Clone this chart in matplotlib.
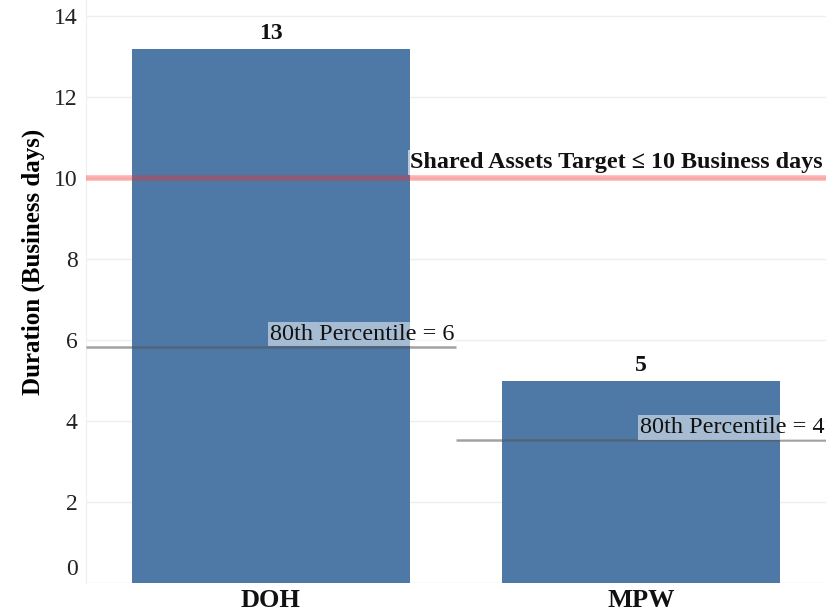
import matplotlib
matplotlib.use("Agg")
import matplotlib.pyplot as plt
import matplotlib.transforms as mtransforms

categories = ["DOH", "MPW"]
durations = [13.2, 5.0]
duration_labels = ["13", "5"]
percentile80 = [5.83, 3.53]
percentile_labels = ["80th Percentile = 6", "80th Percentile = 4"]
target = 10
target_label = "Shared Assets Target \u2264 10 Business days"
yticks = [0, 2, 4, 6, 8, 10, 12, 14]

plt.rcParams['font.family'] = ['Liberation Serif', 'DejaVu Serif']

fig = plt.figure(figsize=(8.26, 6.14), dpi=100)
ax = fig.add_axes([86/826, 1 - 583/614, 740/826, 583/614])

x = list(range(len(categories)))
bar_color = "#4e79a7"
ax.bar(x, durations, width=0.75, color=bar_color, zorder=2)

for xi, v, lab in zip(x, durations, duration_labels):
    ax.text(xi, v + 0.12, lab, ha='center', va='bottom', fontsize=17, fontweight='bold', color='#111111', zorder=5)

# target line
ax.axhline(target, color='#ff2424', alpha=0.36, lw=4, zorder=3)
ax.text(1.5 - 0.008, target + 0.13, target_label, ha='right', va='bottom', fontsize=17.4, fontweight='bold',
        color='#111111', zorder=6,
        bbox=dict(boxstyle='square,pad=0.08', fc='white', ec='none', alpha=0.6))

# percentile lines
for xi, p, lab in zip(x, percentile80, percentile_labels):
    ax.hlines(p, xi - 0.5, xi + 0.5, color='#555555', alpha=0.55, lw=1.8, zorder=3)
    ax.text(xi + 0.5 - 0.005, p + 0.06, lab, ha='right', va='bottom', fontsize=17.5,
            color='#111111', zorder=6,
            bbox=dict(boxstyle='square,pad=0.08', fc='white', ec='none', alpha=0.5))

ax.set_xlim(-0.5, 1.5)
ax.set_ylim(0, 14.4)
ax.set_yticks(yticks)
ax.set_yticklabels([str(t) for t in yticks], fontsize=17, color='#222222')
ax.set_xticks(x)
ax.set_xticklabels(categories, fontsize=19, fontweight='bold', color='#111111')
ax.tick_params(axis='y', length=0, pad=6)
ax.tick_params(axis='x', length=0, pad=4)

# shift the "0" label up slightly
for lbl in ax.get_yticklabels():
    if lbl.get_text() == '0':
        lbl.set_transform(lbl.get_transform() + mtransforms.ScaledTranslation(0, 16/100, fig.dpi_scale_trans))

ax.set_ylabel("Duration (Business days)", fontsize=18, fontweight='bold')
ax.yaxis.set_label_coords(-0.056, 0.55)

ax.yaxis.grid(True, color='#eeeeee', lw=1, zorder=0)
ax.set_axisbelow(True)
for s in ['top', 'right', 'bottom']:
    ax.spines[s].set_visible(False)
ax.spines['left'].set_color('#eeeeee')

fig.savefig("out.png", dpi=100)
